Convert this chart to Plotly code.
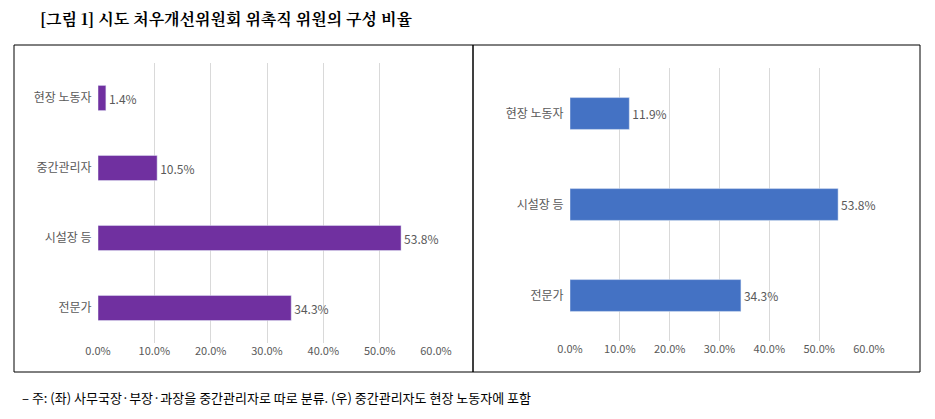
import plotly.graph_objects as go

left_cats = ["현장 노동자", "중간관리자", "시설장 등", "전문가"]
left_vals = [1.4, 10.5, 53.8, 34.3]
right_cats = ["현장 노동자", "시설장 등", "전문가"]
right_vals = [11.9, 53.8, 34.3]
tick_vals = [0, 10, 20, 30, 40, 50, 60]
tick_text = ["0.0%", "10.0%", "20.0%", "30.0%", "40.0%", "50.0%", "60.0%"]

W, H = 919, 403
OX, OY = 8, 8
def px(x): return (x - OX) / W
def py(y): return (H - (y - OY)) / H

FONT = "Noto Sans CJK KR"
fig = go.Figure()
fig.add_trace(go.Bar(y=left_cats, x=left_vals, orientation="h", marker_color="#7030A0",
                     width=0.36, text=[f"{v}%" for v in left_vals], textposition="outside",
                     textfont=dict(color="#595959", size=12), xaxis="x", yaxis="y", cliponaxis=False))
fig.add_trace(go.Bar(y=right_cats, x=right_vals, orientation="h", marker_color="#4472C4",
                     width=0.35, text=[f"{v}%" for v in right_vals], textposition="outside",
                     textfont=dict(color="#595959", size=12), xaxis="x2", yaxis="y2", cliponaxis=False))

ax = dict(range=[0, 60], tickvals=tick_vals, ticktext=tick_text, showgrid=True, gridcolor="#D9D9D9",
          zeroline=False, tickfont=dict(color="#595959", size=11), showline=False, automargin=False)
fig.update_layout(
    width=W, height=H, autosize=False, margin=dict(l=0, r=0, t=0, b=0, pad=0),
    paper_bgcolor="white", plot_bgcolor="white",
    showlegend=False, font=dict(family=FONT),
    xaxis=dict(domain=[px(98), px(436)], anchor="y", **ax),
    yaxis=dict(domain=[py(343), py(63)], autorange="reversed", anchor="x", automargin=False,
               tickfont=dict(color="#595959", size=12), ticksuffix="  "),
    xaxis2=dict(domain=[px(570), px(869)], anchor="y2", **ax),
    yaxis2=dict(domain=[py(341), py(68)], autorange="reversed", anchor="x2", automargin=False,
                tickfont=dict(color="#595959", size=12), ticksuffix="  "),
    shapes=[
        dict(type="rect", xref="paper", yref="paper", x0=px(14), x1=px(473), y0=py(372), y1=py(45),
             line=dict(color="black", width=1)),
        dict(type="rect", xref="paper", yref="paper", x0=px(473), x1=px(920), y0=py(372), y1=py(45),
             line=dict(color="black", width=1)),
    ],
    annotations=[
        dict(text="<b>[그림 1] 시도 처우개선위원회 위촉직 위원의 구성 비율</b>", xref="paper", yref="paper",
             x=px(38), y=py(18), xanchor="left", yanchor="middle", showarrow=False,
             font=dict(size=16, color="black", family="Noto Serif CJK KR, " + FONT)),
        dict(text="– 주: (좌) 사무국장·부장·과장을 중간관리자로 따로 분류. (우) 중간관리자도 현장 노동자에 포함",
             xref="paper", yref="paper", x=px(20), y=py(397), xanchor="left", yanchor="middle",
             showarrow=False, font=dict(size=13, color="black")),
    ],
)
fig.write_html("out.html", config={"responsive": False})
